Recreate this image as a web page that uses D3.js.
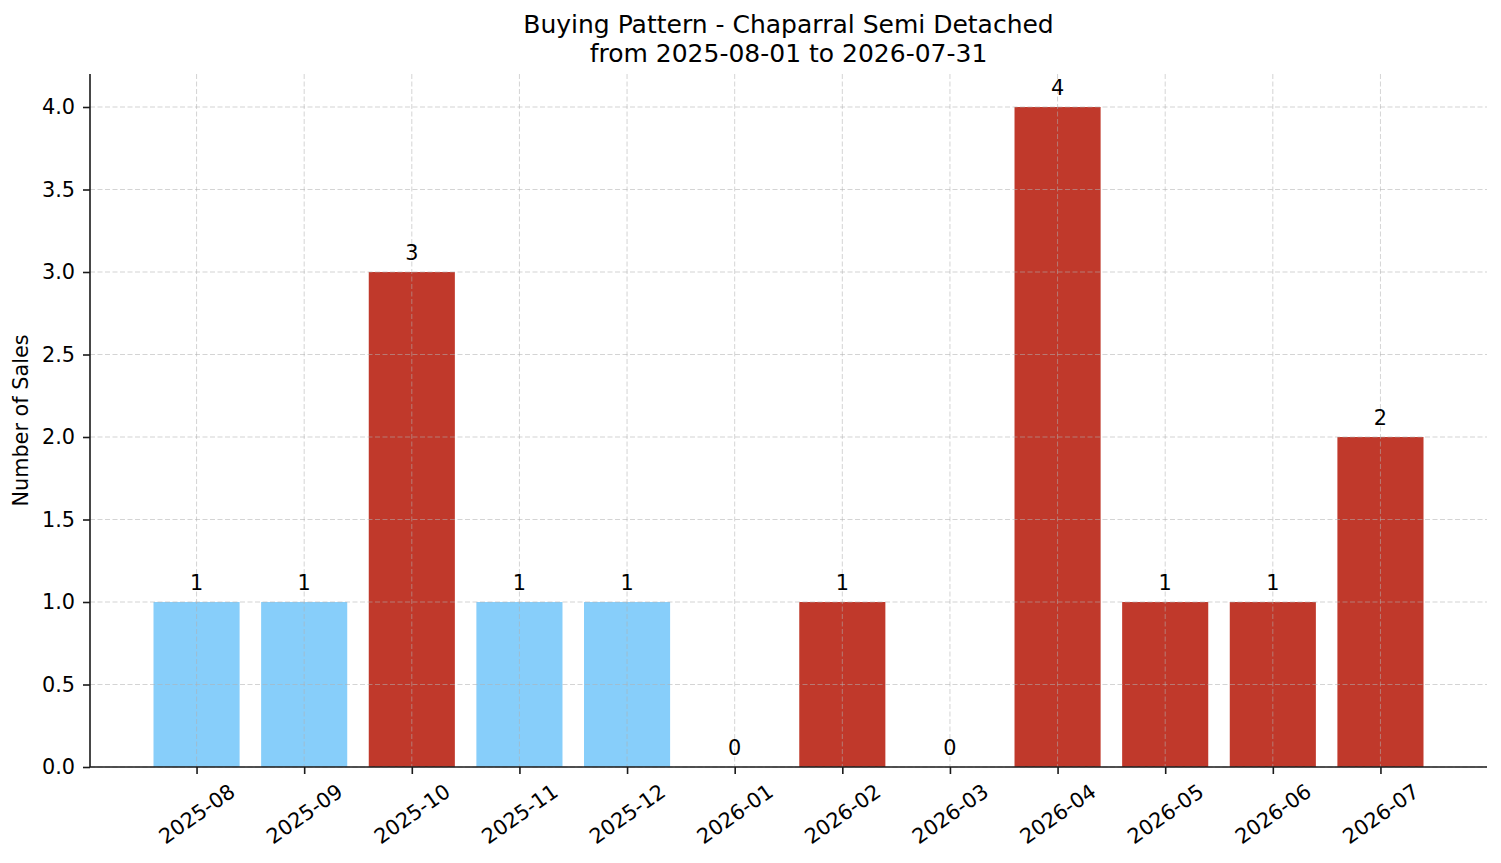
<!DOCTYPE html>
<html>
<head>
<meta charset="utf-8">
<script src="https://cdn.jsdelivr.net/npm/d3@7"></script>
<style>
  body { margin: 0; background: #fff; }
  svg { font-family: "DejaVu Sans", sans-serif; }
</style>
</head>
<body>
<svg id="chart" width="1501" height="863"></svg>
<script>
// months on the x axis
const months = ["2025-08", "2025-09", "2025-10", "2025-11", "2025-12", "2026-01",
  "2026-02", "2026-03", "2026-04", "2026-05", "2026-06", "2026-07"];
// number of sales per month
const sales = [1, 1, 3, 1, 1, 0, 1, 0, 4, 1, 1, 2];
// which months are drawn in red (the rest are light blue)
const highlighted = [false, false, true, false, false, true, true, true, true, true, true, true];
const yTicks = [0, 0.5, 1, 1.5, 2, 2.5, 3, 3.5, 4];

const svg = d3.select("#chart");
const margin = { left: 90, right: 1487, top: 74, bottom: 767 };
const fs = 20.8;

// matplotlib-style limits: bars from -0.4 to 11.4 plus 5% padding
const x = d3.scaleLinear().domain([-0.99, 11.99]).range([margin.left, margin.right]);
const y = d3.scaleLinear().domain([0, 4.2]).range([margin.bottom, margin.top]);
const barW = x(0.8) - x(0);

const color = d => d ? "#c0392b" : "#87cefa";

// bars
svg.append("g").selectAll("rect").data(sales).enter().append("rect")
  .attr("x", (d, i) => x(i - 0.4))
  .attr("y", d => y(d))
  .attr("width", barW)
  .attr("height", d => y(0) - y(d))
  .attr("fill", (d, i) => color(highlighted[i]));

// grid on top of the bars
const grid = svg.append("g")
  .attr("stroke", "#b0b0b0")
  .attr("stroke-opacity", 0.55)
  .attr("stroke-width", 1)
  .attr("stroke-dasharray", "5,2.5");
grid.selectAll(".gy").data(yTicks).enter().append("line")
  .attr("x1", margin.left).attr("x2", margin.right)
  .attr("y1", d => y(d)).attr("y2", d => y(d));
grid.selectAll(".gx").data(months).enter().append("line")
  .attr("x1", (d, i) => x(i)).attr("x2", (d, i) => x(i))
  .attr("y1", margin.top).attr("y2", margin.bottom);

// value labels
svg.append("g").selectAll("text").data(sales).enter().append("text")
  .attr("x", (d, i) => x(i))
  .attr("y", d => y(d) - 12.5)
  .attr("text-anchor", "middle")
  .attr("font-size", fs)
  .attr("fill", "#000")
  .text(d => d);

// y axis
const yAxis = svg.append("g")
  .attr("transform", `translate(${margin.left},0)`)
  .call(d3.axisLeft(y).tickValues(yTicks).tickFormat(d3.format(".1f")).tickSize(7).tickPadding(8));
yAxis.select(".domain").attr("stroke", "#1a1a1a").attr("stroke-width", 1.6).attr("d", `M0,${margin.top}V${margin.bottom}`);
yAxis.selectAll(".tick line").attr("stroke", "#1a1a1a").attr("stroke-width", 1.6);
yAxis.selectAll(".tick text").attr("font-size", fs).attr("fill", "#000")
  .attr("font-family", "DejaVu Sans");

// x axis
const xAxis = svg.append("g")
  .attr("transform", `translate(0,${margin.bottom})`)
  .call(d3.axisBottom(x).tickValues(d3.range(months.length)).tickFormat(i => months[i]).tickSize(7));
xAxis.select(".domain").attr("stroke", "#1a1a1a").attr("stroke-width", 1.6).attr("d", `M${margin.left},0H${margin.right}`);
xAxis.selectAll(".tick line").attr("stroke", "#1a1a1a").attr("stroke-width", 1.6);
xAxis.selectAll(".tick text")
  .attr("font-size", fs).attr("fill", "#000").attr("font-family", "DejaVu Sans")
  .attr("text-anchor", "middle")
  .attr("dy", null)
  .attr("dominant-baseline", "central")
  .attr("y", 47)
  .attr("transform", "rotate(-35, 0, 47)");

// title
svg.append("text")
  .attr("x", (margin.left + margin.right) / 2).attr("y", 33)
  .attr("text-anchor", "middle").attr("font-size", 25)
  .text("Buying Pattern - Chaparral Semi Detached");
svg.append("text")
  .attr("x", (margin.left + margin.right) / 2).attr("y", 62)
  .attr("text-anchor", "middle").attr("font-size", 25)
  .text("from 2025-08-01 to 2026-07-31");

// y label
svg.append("text")
  .attr("transform", `translate(28,${(margin.top + margin.bottom) / 2}) rotate(-90)`)
  .attr("text-anchor", "middle").attr("font-size", fs)
  .text("Number of Sales");
</script>
</body>
</html>
